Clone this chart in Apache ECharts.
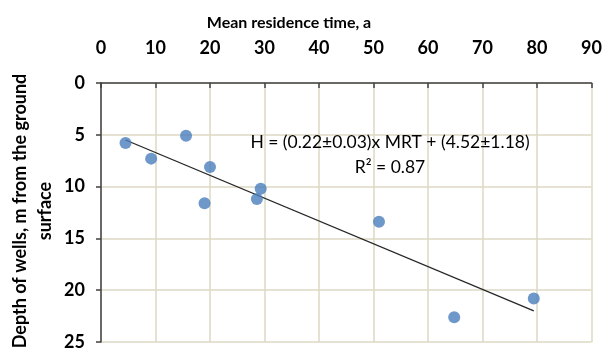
<!DOCTYPE html>
<html>
<head>
<meta charset="utf-8">
<script src="https://cdn.jsdelivr.net/npm/echarts@6/dist/echarts.min.js"></script>
<style>html,body{margin:0;padding:0;background:#fff}#c{width:605px;height:351px}</style>
</head>
<body>
<div id="c"></div>
<script>
var mrt = [4.5, 9.2, 15.6, 19.0, 20.0, 28.6, 29.3, 51.0, 64.8, 79.4];
var depth = [5.8, 7.3, 5.1, 11.6, 8.1, 11.2, 10.2, 13.4, 22.6, 20.8];
var trendMrt = [4.5, 79.4];
var trendDepth = [5.5, 22.0];
var xTicks = [0, 10, 20, 30, 40, 50, 60, 70, 80, 90];
var yTicks = [0, 5, 10, 15, 20, 25];
var xTitle = 'Mean residence time, a';
var yTitle = 'Depth of wells, m from the ground\nsurface';
var eqText = 'H = (0.22\u00b10.03)x MRT + (4.52\u00b11.18)\nR\u00b2 = 0.87';

var chart = echarts.init(document.getElementById('c'), null, {renderer: 'canvas'});
var FONT = 'Lato';
chart.setOption({
  animation: false,
  backgroundColor: '#ffffff',
  grid: {left: 101, top: 83, right: 12, bottom: 8, containLabel: false},
  xAxis: {
    type: 'value', position: 'top',
    min: xTicks[0], max: xTicks[xTicks.length - 1], interval: xTicks[1] - xTicks[0],
    axisLine: {show: true, lineStyle: {color: '#404040', width: 1.5}},
    axisTick: {show: true, inside: true, length: 5, lineStyle: {color: '#404040', width: 1.5}},
    axisLabel: {margin: 26, fontFamily: FONT, fontWeight: 'bold', fontSize: 18, color: '#000'},
    splitLine: {show: true, lineStyle: {color: '#ddd8c4', width: 1.5}}
  },
  yAxis: {
    type: 'value', inverse: true,
    min: yTicks[0], max: yTicks[yTicks.length - 1], interval: yTicks[1] - yTicks[0],
    axisLine: {show: true, onZero: false, lineStyle: {color: '#404040', width: 1.5}},
    axisTick: {show: true, length: 5, lineStyle: {color: '#404040', width: 1.5}},
    axisLabel: {margin: 16, fontFamily: FONT, fontWeight: 'bold', fontSize: 18, color: '#000'},
    splitLine: {show: true, lineStyle: {color: '#ddd8c4', width: 1.5}}
  },
  graphic: [
    {type: 'text', x: 289, y: 23, style: {text: xTitle, align: 'center', verticalAlign: 'middle', fontFamily: FONT, fontWeight: 'bold', fontSize: 16, fill: '#000'}},
    {type: 'text', x: 33, y: 211, rotation: Math.PI / 2, style: {text: yTitle, align: 'center', verticalAlign: 'middle', lineHeight: 25, fontFamily: FONT, fontWeight: 'bold', fontSize: 18, fill: '#000'}},
    {type: 'text', x: 390, y: 155, z: 100, style: {text: eqText, align: 'center', verticalAlign: 'middle', lineHeight: 25, fontFamily: FONT, fontSize: 17.5, fill: '#000'}}
  ],
  series: [
    {
      type: 'line', data: trendMrt.map(function (v, i) { return [v, trendDepth[i]]; }),
      showSymbol: false, symbol: 'none', lineStyle: {color: '#262626', width: 1.3}, z: 2
    },
    {
      type: 'scatter', data: mrt.map(function (v, i) { return [v, depth[i]]; }),
      symbol: 'circle', symbolSize: 12, itemStyle: {color: '#4a7ebb'}, z: 3
    }
  ]
});
</script>
</body>
</html>
